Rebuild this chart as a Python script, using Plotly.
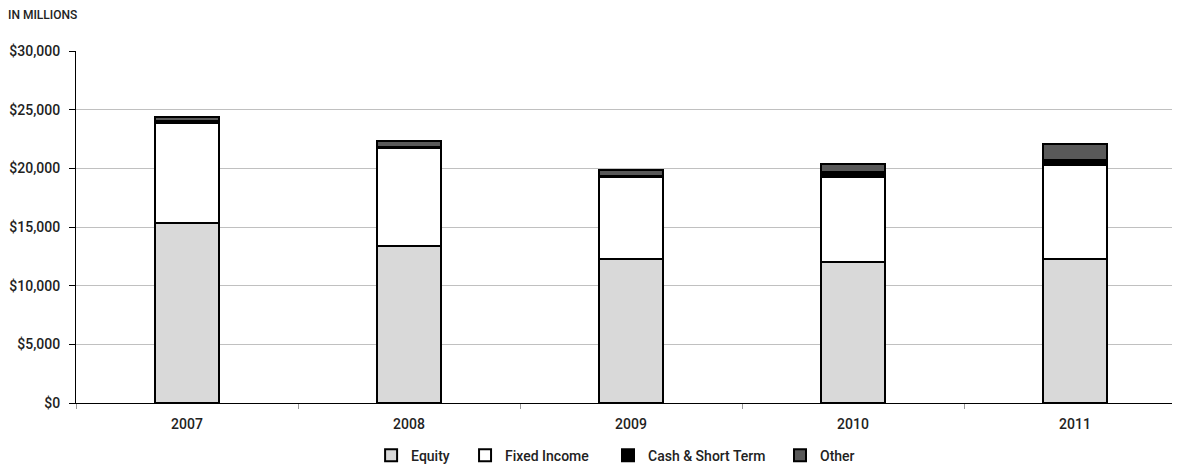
import plotly.graph_objects as go

years = ["2007", "2008", "2009", "2010", "2011"]
equity = [15350, 13350, 12300, 12000, 12300]
fixed_income = [8500, 8400, 6950, 7300, 7950]
cash_short = [150, 100, 100, 400, 450]
other = [400, 450, 500, 700, 1400]

y_ticks = [0, 5000, 10000, 15000, 20000, 25000, 30000]
y_tick_text = ["$0", "$5,000", "$10,000", "$15,000", "$20,000", "$25,000", "$30,000"]

FONT = "Roboto, Liberation Sans, sans-serif"
TXT = "#222222"

series = [
    ("Equity", equity, "#d9d9d9"),
    ("Fixed Income", fixed_income, "#ffffff"),
    ("Cash & Short Term", cash_short, "#000000"),
    ("Other", other, "#595959"),
]
legend_ids = ["legend", "legend2", "legend3", "legend4"]
legend_x = [0.2673, 0.3524, 0.4819, 0.6377]

fig = go.Figure()
for (name, vals, col), lid in zip(series, legend_ids):
    fig.add_trace(go.Bar(
        x=years, y=vals, name=name, width=0.285, legend=lid,
        marker=dict(color=col, line=dict(color="#000000", width=2)),
    ))

legend_style = dict(orientation="h", xanchor="left", y=-0.104, yanchor="top",
                    font=dict(family=FONT, size=14, color=TXT, weight=500),
                    itemwidth=30, bgcolor="rgba(0,0,0,0)")
legend_layout = {lid: dict(legend_style, x=lx) for lid, lx in zip(legend_ids, legend_x)}

# page body has an 8px default margin, so the figure is 8px smaller on each side
fig.update_layout(
    barmode="stack",
    width=1172, height=463,
    margin=dict(l=68, r=0, t=43, b=68, autoexpand=False),
    paper_bgcolor="white", plot_bgcolor="white",
    font=dict(family=FONT, size=14, color=TXT, weight=500),
    showlegend=True,
    xaxis=dict(
        type="category", range=[-0.5, 4.473],
        showline=True, linecolor="#000000", linewidth=1,
        ticks="outside", tickson="boundaries", ticklen=5, tickcolor="#999999",
        ticklabelstandoff=8,
        showgrid=False, tickfont=dict(family=FONT, size=14, color=TXT, weight=500),
    ),
    yaxis=dict(
        range=[0, 30000], tickvals=y_ticks, ticktext=y_tick_text,
        showline=True, linecolor="#000000", linewidth=1,
        ticks="outside", ticklen=6, tickcolor="#000000",
        showgrid=True, gridcolor="#c0c0c0", gridwidth=1,
        zeroline=False, ticklabelstandoff=6,
        tickfont=dict(family=FONT, size=14, color=TXT, weight=500),
    ),
    annotations=[dict(text="IN MILLIONS", xref="paper", yref="paper",
                      x=-70/1104, y=1 + 36/352, xanchor="left", yanchor="middle",
                      showarrow=False, font=dict(family=FONT, size=12, color=TXT, weight=500))],
    **legend_layout,
)

fig.write_html("out.html")
